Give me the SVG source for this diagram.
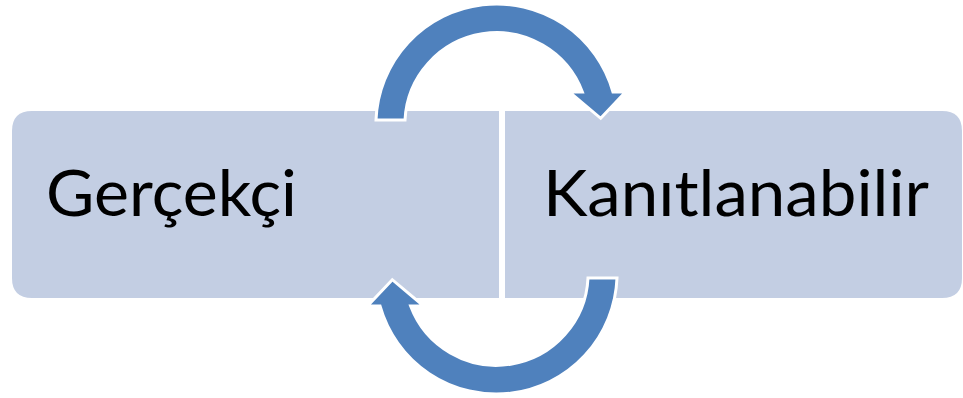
<svg xmlns="http://www.w3.org/2000/svg" width="963" height="398" viewBox="0 0 963 398">
  <style>
    .box { fill: #C3CEE3; }
    .label { font-family: Lato, "Noto Sans", "Liberation Sans", sans-serif; font-size: 64px; fill: #000000; }
    .arrow { fill: #4F81BD; stroke: #FFFFFF; stroke-width: 3; stroke-linejoin: miter; }
  </style>
  <defs>
    <path id="circArrow" d="M 376,120 A 120.8 120.8 0 0 1 613,92 L 625.5,92 L 600.7,118.3 L 569.3,92 L 582.4,92 A 91.7 91.7 0 0 0 405,120 Z"/>
  </defs>
  <g id="node-gercekci">
    <path class="box" d="M 32,111 L 499,111 L 499,298 L 32,298 Q 12,298 12,278 L 12,131 Q 12,111 32,111 Z"/>
    <text class="label" x="46" y="216" textLength="251" lengthAdjust="spacingAndGlyphs">Gerçekçi</text>
  </g>
  <g id="node-kanitlanabilir">
    <path class="box" d="M 505,111 L 942,111 Q 962,111 962,131 L 962,278 Q 962,298 942,298 L 505,298 Z"/>
    <text class="label" x="543" y="216" textLength="386" lengthAdjust="spacingAndGlyphs">Kanıtlanabilir</text>
  </g>
  <g id="connectors">
    <use href="#circArrow" class="arrow"/>
    <use href="#circArrow" class="arrow" transform="rotate(180 496.5 199)"/>
  </g>
</svg>
